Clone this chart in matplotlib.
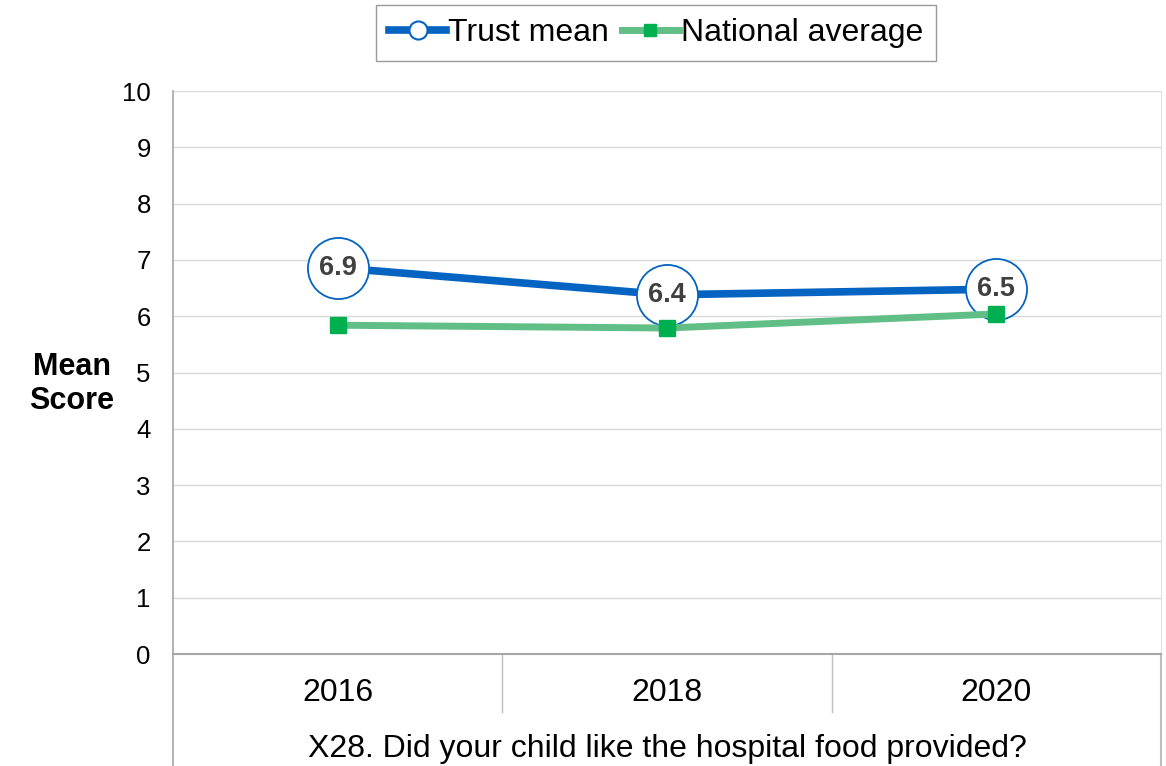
import matplotlib.pyplot as plt
from matplotlib.lines import Line2D

plt.rcParams["font.family"] = ["Liberation Sans", "DejaVu Sans"]

years = ["2016", "2018", "2020"]
trust_mean = [6.86, 6.38, 6.48]
trust_labels = ["6.9", "6.4", "6.5"]
national_avg = [5.84, 5.79, 6.04]
question = "X28. Did your child like the hospital food provided?"

blue = "#0563C1"
green_line = "#62BE87"
green_mark = "#00B050"
grid_col = "#D9D9D9"
axis_col = "#A6A6A6"

fig = plt.figure(figsize=(11.66, 7.66), dpi=100)
ax = fig.add_axes([173 / 1166, (766 - 654) / 766, (1161 - 173) / 1166, (654 - 91) / 766])

x = list(range(len(years)))

ax.plot(x, trust_mean, color=blue, lw=5.5, zorder=2,
        marker="o", markersize=44, markerfacecolor="white",
        markeredgecolor=blue, markeredgewidth=1.3)
ax.plot(x, national_avg, color=green_line, lw=5, zorder=3,
        marker="s", markersize=11, markerfacecolor=green_mark,
        markeredgecolor=green_mark)

for xi, yi, lab in zip(x, trust_mean, trust_labels):
    ax.text(xi, yi, lab, ha="center", va="center", fontsize=19.5,
            fontweight="bold", color="#404040", zorder=4)

ax.set_xlim(-0.5, 2.5)
ax.set_ylim(0, 10)
ax.set_yticks(range(0, 11))
ax.tick_params(axis="y", length=0, labelsize=18.5, pad=16)
ax.grid(axis="y", color=grid_col, lw=1)
ax.set_axisbelow(True)
ax.set_xticks([])

ax.spines["top"].set_visible(False)
ax.spines["right"].set_color("#E0E0E0")
ax.spines["left"].set_color(axis_col)
ax.spines["bottom"].set_color(axis_col)
ax.spines["left"].set_linewidth(1.2)
ax.spines["bottom"].set_linewidth(1.5)

# category box lines below the axis
trans = ax.get_xaxis_transform()
for xd in [0.5, 1.5]:
    ax.add_line(Line2D([xd, xd], [0, -58 / 563], transform=trans,
                       color="#BFBFBF", lw=1, clip_on=False))
ax.add_line(Line2D([-0.5, -0.5], [0, -112 / 563], transform=trans,
                   color=axis_col, lw=1.2, clip_on=False))
ax.add_line(Line2D([2.5, 2.5], [0, -112 / 563], transform=trans,
                   color="#BFBFBF", lw=1.5, clip_on=False))

for xi, yr in zip(x, years):
    ax.text(xi, -0.07, yr, transform=trans, ha="center", va="center",
            fontsize=23)
ax.text(0.5, -0.168, question, transform=ax.transAxes, ha="center",
        va="center", fontsize=23)

fig.text(72 / 1166, 1 - 384 / 766, "Mean\nScore", ha="center", va="center",
         fontsize=22, fontweight="bold", linespacing=1.15)

handles = [
    Line2D([], [], color=blue, lw=5.5, marker="o", markersize=13,
           markerfacecolor="white", markeredgecolor=blue, markeredgewidth=1.5),
    Line2D([], [], color=green_line, lw=5, marker="s", markersize=9,
           markerfacecolor=green_mark, markeredgecolor=green_mark),
]
fig.legend(handles, ["Trust mean", "National average"],
           loc="center", bbox_to_anchor=(656 / 1166, 1 - 33 / 766),
           ncol=2, fontsize=23, frameon=True, fancybox=False,
           edgecolor="#808080", handlelength=1.8, handletextpad=0.05,
           columnspacing=0.4, borderpad=0.4)

fig.savefig("out.png", dpi=100)
